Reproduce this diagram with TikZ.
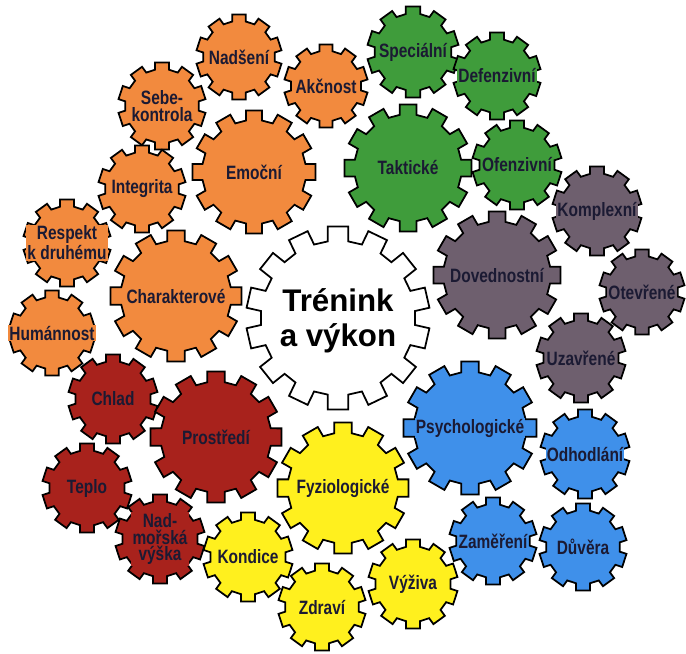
\documentclass[tikz,border=0pt]{standalone}
\usepackage{amsmath, amssymb}
\usepackage{fontspec}
\usepackage{tikz}
\usetikzlibrary{calc,positioning,shapes}

\newfontfamily\gearfont[FakeStretch=0.8]{Liberation Sans}
\newfontfamily\hubfont{Liberation Sans}

\definecolor{gearorange}{HTML}{F28A3E}
\definecolor{gearred}{HTML}{A8221C}
\definecolor{gearyellow}{HTML}{FFF01E}
\definecolor{gearblue}{HTML}{3F90EA}
\definecolor{geargray}{HTML}{6E5F6E}
\definecolor{geargreen}{HTML}{3F9C3B}
\definecolor{gearink}{HTML}{1B1A33}

% #1 name, #2 x, #3 y, #4 outer radius, #5 teeth, #6 colour, #7 label
\newcommand{\gearwheel}[7]{%
	\pgfmathsetmacro{\gearR}{#4}
	\pgfmathsetmacro{\gearr}{#4*0.84}
	\pgfmathsetmacro{\gearp}{360/#5}
	\pgfmathsetmacro{\gearw}{0.25*2*pi*#4/#5}	% half width of a tooth
	\pgfmathsetmacro{\gearho}{asin(\gearw/\gearR)}
	\pgfmathsetmacro{\gearhi}{asin(\gearw/\gearr)}
	\draw [gearline, fill=#6, shift={(#2,#3)}] ({90-\gearhi}:\gearr)
		\foreach \k in {1,...,#5} {
			-- ({90+(\k-1)*\gearp-\gearhi}:\gearr) -- ({90+(\k-1)*\gearp-\gearho}:\gearR)
			-- ({90+(\k-1)*\gearp+\gearho}:\gearR) -- ({90+(\k-1)*\gearp+\gearhi}:\gearr)
		} -- cycle;
	\node [gearlabel, fill=#6] (#1) at (#2,#3) {#7};
}

\begin{document}
\begin{tikzpicture}
[
	x	= 0.02cm,	% one unit is one pixel of the sketch
	y	= -0.02cm,	% y runs downwards
	gearline/.style	= {draw=black, line width=1pt, line join=miter},
	gearlabel/.style	= {inner sep=0.6pt, align=center, text=gearink, font=\gearfont\bfseries\fontsize{11}{9.6}\selectfont},
	hublabel/.style	= {inner sep=0pt, align=center, text=black, font=\hubfont\bfseries\fontsize{17.8}{19.8}\selectfont},
]

\useasboundingbox (0,0) rectangle (686,653);

% centre
\gearwheel{hub}{338}{318}{92}{14}{white}{}
\node [hublabel] (hubtext) at (338,321) {Trénink\\a výkon};

% emotional and character side
\gearwheel{nadseni}{239}{57}{43}{10}{gearorange}{Nadšení}
\gearwheel{akcnost}{326}{86}{42}{10}{gearorange}{Akčnost}
\gearwheel{sebekontrola}{162}{106}{44}{10}{gearorange}{Sebe-\\kontrola}
\gearwheel{emocni}{254}{172}{62}{12}{gearorange}{Emoční}
\gearwheel{integrita}{142}{189}{44}{10}{gearorange}{Integrita}
\gearwheel{respekt}{67}{243}{44}{10}{gearorange}{Respekt\\k druhému}
\gearwheel{charakter}{176}{296}{66}{12}{gearorange}{Charakterové}
\gearwheel{humannost}{52}{333}{43}{10}{gearorange}{Humánnost}

% environment
\gearwheel{chlad}{113}{399}{45}{10}{gearred}{Chlad}
\gearwheel{prostredi}{216}{437}{66}{12}{gearred}{Prostředí}
\gearwheel{teplo}{87}{488}{45}{10}{gearred}{Teplo}
\gearwheel{nadmorska}{160}{539}{45}{10}{gearred}{Nad-\\mořská\\výška}

% physiology
\gearwheel{fyziologicke}{343}{488}{66}{12}{gearyellow}{Fyziologické}
\gearwheel{kondice}{248}{557}{45}{10}{gearyellow}{Kondice}
\gearwheel{zdravi}{322}{607}{44}{10}{gearyellow}{Zdraví}
\gearwheel{vyziva}{413}{584}{45}{10}{gearyellow}{Výživa}

% psychology
\gearwheel{psychologicke}{470}{428}{67}{12}{gearblue}{Psychologické}
\gearwheel{odhodlani}{585}{454}{45}{10}{gearblue}{Odhodlání}
\gearwheel{zamereni}{493}{541}{44}{10}{gearblue}{Zaměření}
\gearwheel{duvera}{583}{547}{44}{10}{gearblue}{Důvěra}

% skills
\gearwheel{uzavrene}{581}{358}{45}{10}{geargray}{Uzavřené}
\gearwheel{dovednostni}{497}{275}{64}{12}{geargray}{Dovednostní}
\gearwheel{komplexni}{597}{211}{45}{10}{geargray}{Komplexní}
\gearwheel{otevrene}{642}{292}{43}{10}{geargray}{Otevřené}

% tactics
\gearwheel{specialni}{413}{52}{46}{10}{geargreen}{Speciální}
\gearwheel{defenzivni}{497}{76}{44}{10}{geargreen}{Defenzivní}
\gearwheel{takticke}{408}{168}{64}{12}{geargreen}{Taktické}
\gearwheel{ofenzivni}{517}{165}{45}{10}{geargreen}{Ofenzivní}

\end{tikzpicture}
\end{document}
